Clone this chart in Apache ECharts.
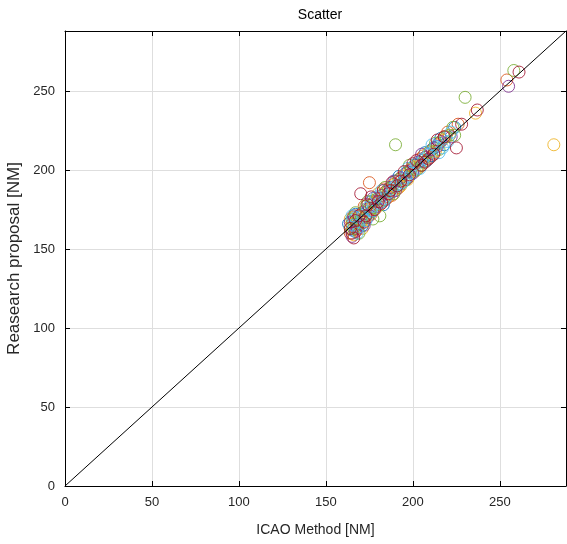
<!DOCTYPE html>
<html>
<head>
<meta charset="utf-8">
<script src="https://cdn.jsdelivr.net/npm/echarts@6/dist/echarts.min.js"></script>
<style>html,body{margin:0;padding:0;background:#fff}#c{width:567px;height:544px}</style>
</head>
<body>
<div id="c"></div>
<script>
var xTicks = [0, 50, 100, 150, 200, 250];
var yTicks = [0, 50, 100, 150, 200, 250];
var seriesNames = ['S1','S2','S3','S4','S5','S6','S7'];
var blueData = [[165,162],[166,168],[168,165],[170,172],[172,170],[175,176],[177,174],[180,182],[182,180],[185,187],[188,186],[190,193],[193,191],[196,198],[198,196],[201,203],[205,206],[208,206],[212,214],[215,217],[218,216],[221,222],
  [163,166],[167,172],[171,165],[176,180],[183,178],[192,196],[200,199],[207,211],[211,209],[216,220],[224,227]];
var orangeData = [[164,160],[165,166],[167,163],[169,170],[171,168],[173,175],[175,192],[176,172],[178,180],[181,178],[184,186],[186,183],[189,191],[192,189],[195,197],[199,200],[203,201],[206,209],[210,208],[214,216],[220,224],[226,229],[254,257],
  [166,170],[168,162],[172,177],[177,175],[183,188],[188,184],[197,195],[204,207],[212,211],[218,221]];
var yellowData = [[165,164],[166,159],[168,169],[170,166],[172,174],[174,171],[177,179],[179,176],[183,184],[185,182],[188,190],[191,188],[194,196],[197,194],[200,202],[204,203],[209,211],[213,212],[217,219],[236,236],[281,216],
  [164,169],[167,171],[171,163],[176,176],[180,185],[186,187],[193,190],[201,199],[207,208],[221,222]];
var purpleData = [[164,167],[165,158],[167,161],[169,166],[171,173],[174,170],[176,178],[179,177],[182,184],[184,181],[187,189],[190,187],[193,195],[197,199],[200,198],[203,205],[207,208],[211,213],[216,218],[255,253],
  [166,171],[168,163],[172,165],[177,182],[181,182],[189,193],[196,194],[205,210],[214,215],[222,221]];
var greenData = [[165,169],[166,163],[168,167],[170,168],[173,177],[175,173],[178,181],[181,171],[183,181],[186,188],[189,185],[190,216],[192,194],[195,193],[199,201],[202,200],[206,205],[210,212],[215,213],[219,221],[223,227],[230,246],[258,263],
  [164,163],[167,173],[169,160],[174,180],[177,169],[184,189],[191,190],[198,203],[205,203],[213,217],[224,222]];
var cyanData = [[166,165],[167,170],[169,164],[171,171],[174,176],[176,174],[179,183],[181,179],[184,182],[187,186],[190,190],[194,192],[196,195],[199,198],[202,204],[206,207],[209,210],[213,215],[217,214],[220,218],[222,224],
  [165,171],[168,160],[173,168],[177,177],[182,187],[188,188],[197,201],[204,201],[211,216],[215,211]];
var darkredData = [[164,163],[165,160],[167,168],[170,185],[172,167],[174,178],[178,175],[180,180],[183,187],[186,185],[188,192],[191,190],[195,199],[198,197],[202,206],[205,203],[209,207],[214,219],[218,221],[225,214],[228,229],[237,238],[261,262],
  [166,157],[169,171],[173,171],[176,183],[182,179],[187,187],[193,193],[200,204],[207,205],[212,210]];
var refLine = [[0,0],[288,288]];

var colors = ['#0072BD','#D95319','#EDB120','#7E2F8E','#77AC30','#4DBEEE','#A2142F'];
var allData = [blueData, orangeData, yellowData, purpleData, greenData, cyanData, darkredData];
var AX = 288;
var font = 'Liberation Sans, Arial, sans-serif';
var series = allData.map(function (d, i) {
  return {
    name: seriesNames[i], type: 'scatter', data: d, symbol: 'circle', symbolSize: 12,
    itemStyle: { color: 'transparent', borderColor: colors[i], borderWidth: 1, opacity: 0.85 },
    xAxisIndex: 0, yAxisIndex: 0, z: 2
  };
});
series.push({
  type: 'line', data: refLine, showSymbol: false, symbol: 'none',
  lineStyle: { color: '#000', width: 1 }, z: 5, silent: true, xAxisIndex: 0, yAxisIndex: 0
});
function labelFmt(ticks) { return function (v) { return ticks.indexOf(v) >= 0 ? String(v) : ''; }; }
var chart = echarts.init(document.getElementById('c'));
chart.setOption({
  animation: false,
  backgroundColor: '#fff',
  title: { text: 'Scatter', left: 315, top: 3, textAlign: 'center',
    textStyle: { fontFamily: font, fontSize: 14, fontWeight: 'normal', color: '#000' } },
  grid: { left: 65, right: 1, top: 31, bottom: 58, containLabel: false, outerBoundsMode: 'none' },
  xAxis: [{
    type: 'value', min: 0, max: AX, interval: 50, position: 'bottom',
    name: 'ICAO Method [NM]', nameLocation: 'middle', nameGap: 37,
    nameTextStyle: { fontFamily: font, fontSize: 14, color: '#262626' },
    axisLine: { show: true, lineStyle: { color: '#000', width: 1 } },
    axisTick: { show: true, inside: true, length: 5, lineStyle: { color: '#000' } },
    axisLabel: { fontFamily: font, fontSize: 13, color: '#262626', margin: 10, showMaxLabel: false, formatter: labelFmt(xTicks) },
    splitLine: { show: true, lineStyle: { color: '#dedede', width: 1 } }
  }, {
    type: 'value', min: 0, max: AX, interval: 50, position: 'top',
    axisLine: { show: true, onZero: false, lineStyle: { color: '#000', width: 1 } },
    axisTick: { show: true, inside: true, length: 5, lineStyle: { color: '#000' } },
    axisLabel: { show: false }, splitLine: { show: false }
  }],
  yAxis: [{
    type: 'value', min: 0, max: AX, interval: 50, position: 'left',
    name: 'Reasearch proposal [NM]', nameLocation: 'middle', nameGap: 34,
    nameTextStyle: { fontFamily: font, fontSize: 17, color: '#262626' },
    axisLine: { show: true, lineStyle: { color: '#000', width: 1 } },
    axisTick: { show: true, inside: true, length: 5, lineStyle: { color: '#000' } },
    axisLabel: { fontFamily: font, fontSize: 13, color: '#262626', margin: 10, showMaxLabel: false, formatter: labelFmt(yTicks) },
    splitLine: { show: true, lineStyle: { color: '#dedede', width: 1 } }
  }, {
    type: 'value', min: 0, max: AX, interval: 50, position: 'right',
    axisLine: { show: true, onZero: false, lineStyle: { color: '#000', width: 1 } },
    axisTick: { show: true, inside: true, length: 5, lineStyle: { color: '#000' } },
    axisLabel: { show: false }, splitLine: { show: false }
  }],
  series: series
});
</script>
</body>
</html>
